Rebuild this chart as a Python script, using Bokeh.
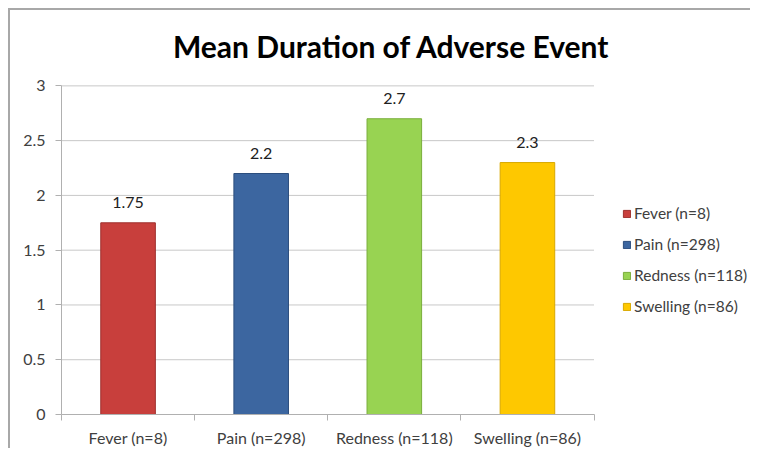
from bokeh.plotting import figure
from bokeh.models import (Range1d, FixedTicker, NumeralTickFormatter, ColumnDataSource,
                          Legend, LegendItem, LabelSet, Label)
from bokeh.core.properties import value
from bokeh.embed import file_html
from bokeh.resources import INLINE

title_text = "Mean Duration of Adverse Event"
categories = ["Fever (n=8)", "Pain (n=298)", "Redness (n=118)", "Swelling (n=86)"]
values = [1.75, 2.2, 2.7, 2.3]
value_labels = ["1.75", "2.2", "2.7", "2.3"]
colors = ["#c83f3c", "#3c66a0", "#98d352", "#fec800"]
edges = ["#9e302d", "#2c4e7e", "#7aae3c", "#d8a800"]
ticks_y = [0, 0.5, 1, 1.5, 2, 2.5, 3]

n = len(categories)
y_max = ticks_y[-1]
x = [i + 0.5 for i in range(n)]
src = ColumnDataSource(dict(x=x, top=values, cats=categories, color=colors, edge=edges, lab=value_labels))

FONT = "Lato"
TXT = "#404040"

# plot area: categories plus a strip on the right for the legend, and a band on top for the title
frame_w, cat_w = 691, 532.5
x_end = n * frame_w / cat_w
px_per_unit = 327 / y_max
y_end = y_max + 75 / px_per_unit

p = figure(width=742, height=440, output_backend="svg", toolbar_location=None,
           x_range=Range1d(0, x_end), y_range=Range1d(0, y_end),
           min_border_left=51, min_border_right=0, min_border_top=0, min_border_bottom=36)
p.title.text = ""
p.outline_line_color = None
p.background_fill_color = "white"
p.border_fill_color = "white"
p.styles = {"border-left": "2px solid #a8a8a8", "border-top": "2px solid #a8a8a8",
            "margin-left": "8px", "margin-top": "8px"}

p.add_layout(Label(x=(391 - 61) / (cat_w / n), y=y_max + 40 / px_per_unit, text=title_text,
                   text_align="center", text_baseline="middle", text_font=FONT,
                   text_font_size="30px", text_font_style="bold", text_color="#000000"))

# horizontal grid lines limited to the category area
p.xgrid.grid_line_color = None
p.ygrid.grid_line_color = None
p.segment(x0=[0] * len(ticks_y), x1=[n] * len(ticks_y), y0=ticks_y, y1=ticks_y,
          line_color="#c8c8c8", line_width=1)

r = p.vbar(x="x", top="top", width=0.41, bottom=0, source=src, fill_color="color",
           line_color="edge", line_width=1)

labels = LabelSet(x="x", y="top", text="lab", source=src, text_align="center",
                  text_baseline="bottom", y_offset=15, text_font_size="16px",
                  text_font=value(FONT), text_color="#202020")
p.add_layout(labels)

yax = p.yaxis[0]
yax.bounds = (0, y_max)
yax.ticker = FixedTicker(ticks=ticks_y)
yax.formatter = NumeralTickFormatter(format="0.[0]")
yax.axis_line_color = "#b0b0b0"
yax.major_tick_line_color = "#b0b0b0"
yax.major_tick_out = 6
yax.major_tick_in = 0
yax.minor_tick_line_color = None
yax.major_label_text_font = FONT
yax.major_label_text_font_size = "16px"
yax.major_label_text_color = TXT
yax.major_label_standoff = 10

xax = p.xaxis[0]
xax.bounds = (0, n)
xax.ticker = FixedTicker(ticks=x, minor_ticks=list(range(n + 1)))
xax.major_label_overrides = {xi: c for xi, c in zip(x, categories)}
xax.axis_line_color = "#b0b0b0"
xax.major_tick_line_color = None
xax.minor_tick_line_color = "#b0b0b0"
xax.minor_tick_out = 6
xax.minor_tick_in = 0
xax.major_label_text_font = FONT
xax.major_label_text_font_size = "16px"
xax.major_label_text_color = TXT
xax.major_label_standoff = 7

items = [LegendItem(label=c, renderers=[r], index=i) for i, c in enumerate(categories)]
legend = Legend(items=items, location=(561, 98), orientation="vertical",
                glyph_width=9, glyph_height=9, label_standoff=3, spacing=11,
                label_height=20,
                label_text_font=FONT, label_text_font_size="15.5px", label_text_color=TXT,
                border_line_color=None, background_fill_alpha=0, padding=0, margin=0)
p.add_layout(legend, "center")

open("out.html", "w").write(file_html(p, INLINE))
